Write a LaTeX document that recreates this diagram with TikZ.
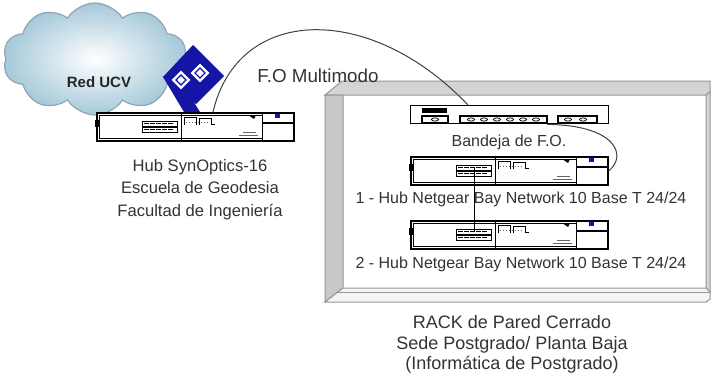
\documentclass[tikz,border=0pt]{standalone}
\usepackage{fontspec}
\setmainfont{Liberation Sans}
\usetikzlibrary{shapes.symbols,positioning,calc}

\definecolor{logoblue}{RGB}{20,20,165}
\definecolor{cloudedge}{RGB}{145,165,178}
\definecolor{cloudfill}{RGB}{165,200,218}
\definecolor{wallgray}{RGB}{212,212,212}
\definecolor{walldark}{RGB}{200,200,200}
\definecolor{walledge}{RGB}{150,150,150}

\tikzset{
  hub/.style = {draw, line width=0.9pt, fill=white, minimum width=98.5pt, minimum height=14pt, inner sep=0pt, anchor=north west},
  tray/.style = {draw, line width=0.7pt, fill=white, minimum width=99pt, minimum height=9pt, inner sep=0pt, anchor=north west},
  devtext/.style = {font=\fontsize{8}{10}\selectfont, text=black!80, inner sep=0pt, anchor=base},
  fibre/.style = {draw=black!75, line width=0.5pt},
  logobox/.style = {fill=white, draw=logoblue, line width=1pt},
}

% front panel of a hub, drawn over the hub node
\newcommand{\hubparts}[1]{%
  \begin{scope}[shift={(#1.north west)}, line width=0.4pt]
    \draw (3,3) rectangle (166,26);
    \fill (-1,8) rectangle (3,15);
    \draw (85,0) -- (85,28);
    \draw (166,0) -- (166,28);
    \draw[line width=1.1pt] (166,11) -- (197,11);
    \fill[logoblue] (179,2) rectangle (184,6);
    \fill (152,3) -- (160,3) -- (158,7) -- cycle;
    \foreach \r in {9,15} {
      \draw (46,\r) rectangle (81,\r+5);
      \foreach \p in {48,54,60,66,72} \draw[line width=0.6pt] (\p,\r+2.5) -- (\p+5,\r+2.5);
    }
    \draw[line width=0.3pt] (88,13) -- (88,5) -- (100,5) -- (100,13);
    \draw[line width=0.3pt] (103,13) -- (103,6) -- (115,6) -- (115,12) -- (119,12);
    \foreach \p in {90,93,...,111} \fill[black!60] (\p,10) rectangle ++(1,1);
    \draw[line width=0.3pt, black!60] (147,20) -- (160,20) (143,23) -- (162,23);
  \end{scope}}

% patch panel of the fibre tray
\newcommand{\trayparts}[1]{%
  \begin{scope}[shift={(#1.north west)}, line width=0.6pt]
    \fill (12,3) rectangle (37,8);
    \draw (12,11) rectangle (38,18);
    \draw (50,11) rectangle (137,18);
    \draw (148,11) rectangle (187,18);
    \foreach \p in {25,61,74,87,100,113,126,158,173}
      \draw[line width=0.4pt] (\p,14.5) ellipse [x radius=1.8pt, y radius=0.8pt];
  \end{scope}}

\begin{document}
\begin{tikzpicture}[x=0.5pt, y=-0.5pt]
\useasboundingbox (0,0) rectangle (711,375);

% wall rack
\fill[white] (343,95) rectangle (706,288);
\filldraw[fill=wallgray, draw=walledge, line width=0.5pt] (325,95) -- (342,81) -- (710,81) -- (710,92) -- (706,95) -- cycle;
\filldraw[fill=walldark, draw=walledge, line width=0.5pt] (325,95) -- (343,95) -- (343,288) -- (325,302) -- cycle;
\filldraw[fill=wallgray, draw=walledge, line width=0.5pt] (706,95) -- (710,92) -- (710,292) -- (706,288) -- cycle;
\filldraw[fill=black!4, draw=walledge, line width=0.5pt] (325,302) -- (343,288) -- (706,288) -- (710,292) -- (710,299) -- (706,302) -- cycle;
\draw[walledge, line width=0.5pt] (338,292) -- (710,292);

% campus network
\node[cloud, cloud puffs=10, cloud puff arc=115, aspect=1.6, minimum width=92pt, minimum height=56pt,
      draw=cloudedge, line width=0.6pt, inner color=white, outer color=cloudfill] (ucv) at (95,59) {};
\node[devtext, font=\fontsize{7.5}{9}\selectfont\bfseries, text=black!85] (ucvtext) at (99,87) {Red UCV};

% logo
\fill[logoblue] (193,45) -- (224,76) -- (196,104) -- (163,77) -- cycle;
\fill[logoblue] (163,77) -- (174,70) -- (200,112) -- (184,112) -- cycle;
\filldraw[logobox] (181,69) -- (192,80) -- (181,91) -- (170,80) -- cycle;
\filldraw[logobox] (200,62) -- (211,73) -- (200,84) -- (189,73) -- cycle;
\draw[logoblue, line width=0.6pt] (181,75) -- (186,80) -- (181,85) -- (176,80) -- cycle
                                  (200,68) -- (205,73) -- (200,78) -- (195,73) -- cycle;

% hubs
\node[hub] (synhub) at (96,112) {};
\hubparts{synhub}
\node[hub] (hub1) at (410,156) {};
\hubparts{hub1}
\node[hub] (hub2) at (410,220) {};
\hubparts{hub2}

\node[tray] (tray) at (410,105) {};
\trayparts{tray}

% links
\draw[fibre] ($(synhub.north west)+(117,0)$) .. controls (238,5) and (370,2) .. ($(tray.north west)+(58,0)$);
\draw[fibre] ($(tray.south west)+(137,0)$) .. controls (615,125) and (628,155) .. (hub1.east);
\draw[line width=0.5pt] ($(hub1.north west)+(64,12)$) -- ($(hub2.north west)+(64,12)$);

% labels
\node[devtext, font=\fontsize{9.4}{11}\selectfont] (fotext) at (318,82) {F.O Multimodo};
\node[devtext, font=\fontsize{8.3}{11.25}\selectfont, align=center, anchor=north] (syntext) at (200,159)
  {Hub SynOptics-16\\Escuela de Geodesia\\Facultad de Ingeniería};
\node[devtext] (traytext) at (509,146) {Bandeja de F.O.};
\node[devtext] (hub1text) at (521,203) {1 - Hub Netgear Bay Network 10 Base T 24/24};
\node[devtext] (hub2text) at (521,268) {2 - Hub Netgear Bay Network 10 Base T 24/24};
\node[devtext, font=\fontsize{9}{10.3}\selectfont, align=center, anchor=north] (racktext) at (512,315)
  {RACK de Pared Cerrado\\Sede Postgrado/ Planta Baja\\(Informática de Postgrado)};
\end{tikzpicture}
\end{document}
